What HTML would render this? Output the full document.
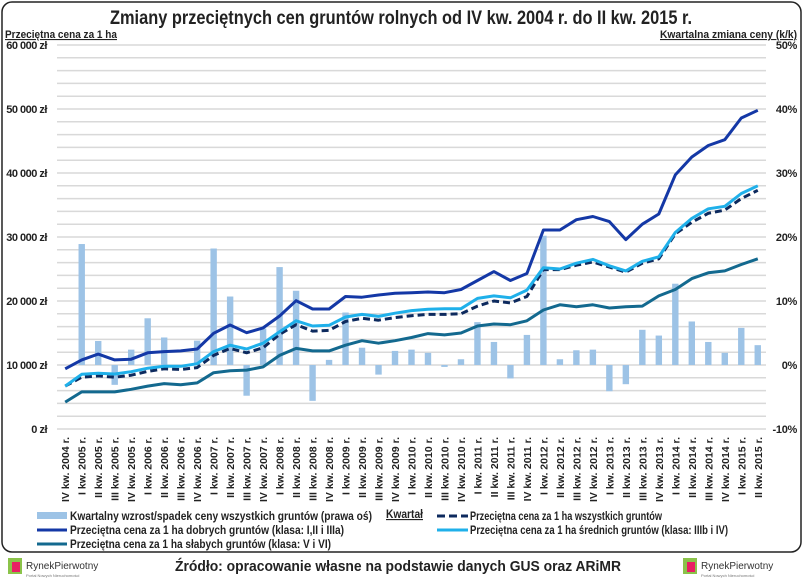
<!DOCTYPE html>
<html><head><meta charset="utf-8"><style>
body{margin:0;background:#fff;}
svg{display:block;font-family:"Liberation Sans",sans-serif;}
</style></head><body>
<svg id="c" width="805" height="581" viewBox="0 0 805 581">
<rect x="2" y="2" width="799" height="550" rx="10" fill="#fff" stroke="#222" stroke-width="1.5"/>
<text x="110" y="24" textLength="582" lengthAdjust="spacingAndGlyphs" font-size="19" font-weight="bold" fill="#222">Zmiany przeciętnych cen gruntów rolnych od IV kw. 2004 r. do II kw. 2015 r.</text>
<text x="5" y="38" textLength="112" lengthAdjust="spacingAndGlyphs" font-size="11" font-weight="bold" fill="#222" text-decoration="underline">Przeciętna cena za 1 ha</text>
<text x="660" y="38" textLength="137" lengthAdjust="spacingAndGlyphs" font-size="11" font-weight="bold" fill="#222" text-decoration="underline">Kwartalna zmiana ceny (k/k)</text>
<g id="grid"></g><g id="bars"></g><g id="lines"></g><g id="axes"></g>
<g font-size="11.5" fill="#222" font-weight="bold">
<rect x="37" y="512" width="30" height="7" fill="#9dc3e6"/>
<text x="70" y="520" textLength="302" lengthAdjust="spacingAndGlyphs">Kwartalny wzrost/spadek ceny wszystkich gruntów (prawa oś)</text>
<text x="386" y="518" textLength="37" lengthAdjust="spacingAndGlyphs" text-decoration="underline">Kwartał</text>
<line x1="437" y1="516" x2="468" y2="516" stroke="#0d2a5e" stroke-width="3" stroke-dasharray="8,4"/>
<text x="470" y="520" textLength="192" lengthAdjust="spacingAndGlyphs">Przeciętna cena za 1 ha wszystkich gruntów</text>
<line x1="37" y1="530" x2="67" y2="530" stroke="#1438a6" stroke-width="3"/>
<text x="70" y="534" textLength="274" lengthAdjust="spacingAndGlyphs">Przeciętna cena za 1 ha dobrych gruntów (klasa: I,II i IIIa)</text>
<line x1="437" y1="530" x2="468" y2="530" stroke="#1fb0ea" stroke-width="3"/>
<text x="470" y="534" textLength="258" lengthAdjust="spacingAndGlyphs">Przeciętna cena za 1 ha średnich gruntów (klasa: IIIb i IV)</text>
<line x1="37" y1="544" x2="67" y2="544" stroke="#13698f" stroke-width="3"/>
<text x="70" y="548" textLength="261" lengthAdjust="spacingAndGlyphs">Przeciętna cena za 1 ha słabych gruntów (klasa: V i VI)</text>
</g>
<text x="175" y="571" textLength="446" lengthAdjust="spacingAndGlyphs" font-size="15" font-weight="bold" fill="#222">Źródło: opracowanie własne na podstawie danych GUS oraz ARiMR</text>
<g><rect x="8" y="558" width="14" height="16" fill="#8bc34a"/><rect x="12" y="562" width="8" height="10" fill="#e91e63"/><text x="26" y="569" font-size="10" fill="#333">RynekPierwotny</text><text x="26" y="577" font-size="4" fill="#777">Portal Nowych Nieruchomości</text></g>
<g><rect x="683" y="558" width="14" height="16" fill="#8bc34a"/><rect x="687" y="562" width="8" height="10" fill="#e91e63"/><text x="701" y="569" font-size="10" fill="#333">RynekPierwotny</text><text x="701" y="577" font-size="4" fill="#777">Portal Nowych Nieruchomości</text></g>
</svg>
<script>
const categories=["IV kw. 2004 r.","I kw. 2005 r.","II kw. 2005 r.","III kw. 2005 r.","IV kw. 2005 r.","I kw. 2006 r.","II kw. 2006 r.","III kw. 2006 r.","IV kw. 2006 r.","I kw. 2007 r.","II kw. 2007 r.","III kw. 2007 r.","IV kw. 2007 r.","I kw. 2008 r.","II kw. 2008 r.","III kw. 2008 r.","IV kw. 2008 r.","I kw. 2009 r.","II kw. 2009 r.","III kw. 2009 r.","IV kw. 2009 r.","I kw. 2010 r.","II kw. 2010 r.","III kw. 2010 r.","IV kw. 2010 r.","I kw. 2011 r.","II kw. 2011 r.","III kw. 2011 r.","IV kw. 2011 r.","I kw. 2012 r.","II kw. 2012 r.","III kw. 2012 r.","IV kw. 2012 r.","I kw. 2013 r.","II kw. 2013 r.","III kw. 2013 r.","IV kw. 2013 r.","I kw. 2014 r.","II kw. 2014 r.","III kw. 2014 r.","IV kw. 2014 r.","I kw. 2015 r.","II kw. 2015 r."];
const changePct=[0,18.9,3.75,-3.1,2.4,7.3,4.3,0,3.8,18.2,10.7,-4.8,5.7,15.3,11.6,-5.6,0.8,8.2,2.7,-1.5,2.2,2.4,1.9,-0.3,0.9,6.7,3.6,-2.1,4.7,20.2,0.9,2.3,2.4,-4.1,-3.0,5.5,4.6,12.7,6.8,3.6,1.9,5.8,3.1];
const goodPrice=[9400,10800,11700,10800,10900,11900,12100,12200,12500,14950,16250,15050,15800,17650,20050,18750,18750,20700,20600,20940,21200,21300,21400,21300,21800,23200,24600,23200,24300,31100,31100,32700,33200,32400,29600,32000,33600,39700,42500,44300,45200,48600,49800];
const mediumPrice=[6700,8540,8700,8600,8950,9500,9800,9800,10200,12100,13100,12500,13400,15200,16900,16100,16200,17500,17900,17600,18100,18500,18700,18800,18800,20400,20800,20500,21700,25200,25000,25900,26500,25500,24700,26200,26900,30700,32900,34400,34800,36800,38000];
const allPrice=[6700,8100,8300,8100,8400,9000,9400,9300,9600,11500,12600,11900,12700,14800,16300,15300,15400,16800,17300,17000,17400,17700,17900,17900,18000,19200,20000,19700,20700,24900,24900,25600,26100,25300,24500,25900,26600,30500,32300,33700,34200,36000,37300];
const weakPrice=[4200,5800,5800,5800,6200,6700,7100,6900,7200,8800,9100,9200,9700,11500,12600,12200,12200,13100,13800,13400,13800,14300,14900,14700,15000,16100,16400,16300,16900,18600,19400,19100,19400,18900,19100,19200,20800,21800,23500,24400,24700,25700,26600];
const leftTicks=[0,10000,20000,30000,40000,50000,60000];
const leftTickLabels=["0 zł","10 000 zł","20 000 zł","30 000 zł","40 000 zł","50 000 zł","60 000 zł"];
const rightTicks=[-10,0,10,20,30,40,50];
const rightTickLabels=["-10%","0%","10%","20%","30%","40%","50%"];

const NS="http://www.w3.org/2000/svg";
const X0=57,X1=766,Y0=429,Y1=45;
const band=(X1-X0)/categories.length;
const xc=i=>X0+band*(i+0.5);
const yL=v=>Y0-(v/60000)*(Y0-Y1);
const yR=p=>Y0-((p+10)/60)*(Y0-Y1);
function mk(t,a,p){const e=document.createElementNS(NS,t);for(const k in a)e.setAttribute(k,a[k]);p.appendChild(e);return e;}
const grid=document.getElementById('grid'),bars=document.getElementById('bars'),lines=document.getElementById('lines'),axes=document.getElementById('axes');
for(let v=0;v<=60000;v+=2000){const g=mk('line',{x1:X0,x2:X1,y1:yL(v),y2:yL(v),stroke:'#d9d9d9','stroke-width':1.5},grid);

}
leftTicks.forEach((v,i)=>{const t=mk('text',{x:47,y:yL(v)+4,'text-anchor':'end','font-size':11,'font-weight':'bold',fill:'#222','letter-spacing':'-0.5'},axes);t.textContent=leftTickLabels[i];

});
rightTicks.forEach((v,i)=>{const t=mk('text',{x:797,y:yR(v)+4,'text-anchor':'end','font-size':11,'font-weight':'bold',fill:'#222','letter-spacing':'-0.3'},axes);t.textContent=rightTickLabels[i];

});
categories.forEach((c,i)=>{const t=mk('text',{transform:`translate(${xc(i)+4},437) rotate(-90)`,'text-anchor':'end','font-size':10.5,'font-weight':'bold',fill:'#222'},axes);t.textContent=c;

});
changePct.forEach((p,i)=>{const y0=yR(0),y=yR(p);const r=mk('rect',{x:xc(i)-3.2,y:Math.min(y,y0),width:6.4,height:Math.abs(y-y0),fill:'#9dc3e6'},bars);

});
function line(arr,col,name,dash){const d=arr.map((v,i)=>(i?'L':'M')+xc(i).toFixed(1)+','+yL(v).toFixed(1)).join('');
const a={d:d,fill:'none',stroke:col,'stroke-width':3,'stroke-linejoin':'round'};if(dash)a['stroke-dasharray']=dash;const p=mk('path',a,lines);

}
line(weakPrice,'#13698f','line-weak');
line(goodPrice,'#1438a6','line-good');
line(allPrice,'#0d2a5e','line-all','7,4');
line(mediumPrice,'#1fb0ea','line-medium');
</script>
</body></html>
